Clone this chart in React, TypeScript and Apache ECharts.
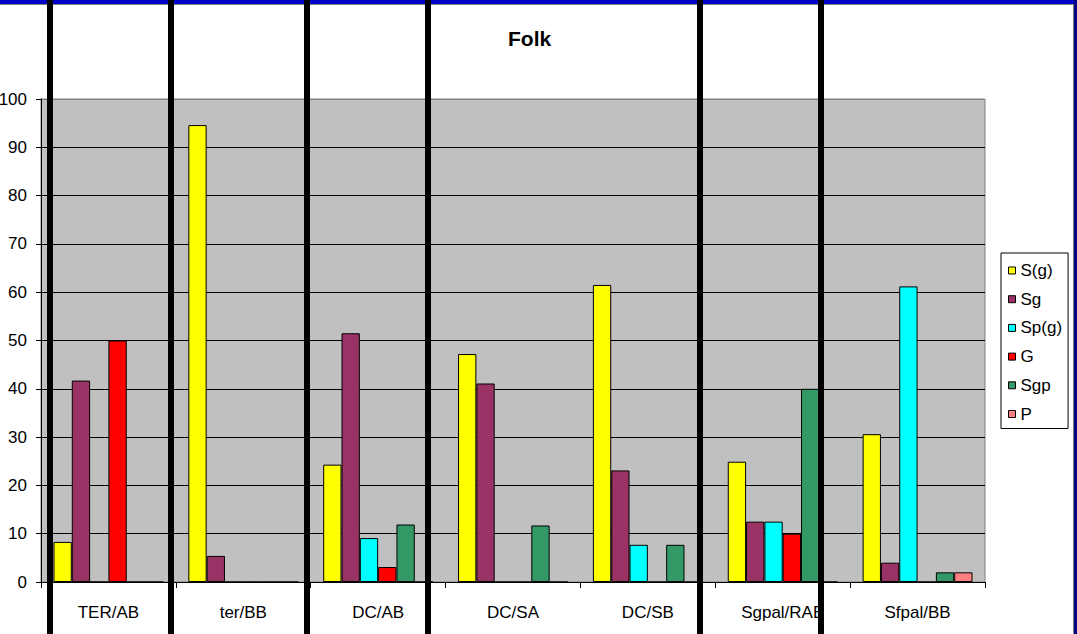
import React, { useEffect, useRef } from "react";
import * as echarts from "echarts";

const categories = ["TER/AB", "ter/BB", "DC/AB", "DC/SA", "DC/SB", "Sgpal/RAB", "Sfpal/BB"];
const seriesNames = ["S(g)", "Sg", "Sp(g)", "G", "Sgp", "P"];
const sgValues = [8.3, 94.6, 24.3, 47.2, 61.5, 24.9, 30.6];
const sgPlainValues = [41.7, 5.4, 51.5, 41.1, 23.1, 12.5, 4.0];
const spgValues = [0, 0, 9.1, 0, 7.7, 12.5, 61.2];
const gValues = [50.0, 0, 3.1, 0, 0, 10.0, 0];
const sgpValues = [0, 0, 11.9, 11.7, 7.7, 40.0, 2.0];
const pValues = [0, 0, 0, 0, 0, 0, 2.0];
const seriesColors = ["#FFFF00", "#993366", "#00FFFF", "#FF0000", "#339966", "#FF8080"];
const yTicks = { min: 0, max: 100, interval: 10 };

const FONT = "'Liberation Sans', Arial, sans-serif";

export default function App() {
  const ref = useRef<HTMLDivElement>(null);
  useEffect(() => {
    if (!ref.current) return;
    const chart = echarts.init(ref.current, null, { renderer: "svg" });
    const allValues = [sgValues, sgPlainValues, spgValues, gValues, sgpValues, pValues];
    const overlayX = [50, 171, 307, 428, 700, 821];
    const gridColors = ["#000", "#000", "#000", "#000", "#000", "#000", "#000", "#000", "#000", "#000", "#808080"];
    chart.setOption({
      animation: false,
      backgroundColor: "#FFFFFF",
      title: {
        text: "Folk",
        left: 508,
        top: 28,
        padding: 0,
        textStyle: { fontFamily: FONT, fontSize: 21, fontWeight: "bold", color: "#000" },
      },
      legend: {
        orient: "vertical",
        left: 1001,
        top: 253,
        padding: [9, 6, 6, 7],
        itemWidth: 7,
        itemHeight: 7,
        itemGap: 11.7,
        itemTextGap: 8,
        icon: "rect",
        backgroundColor: "#FFFFFF",
        borderColor: "#000",
        borderWidth: 1,
        borderRadius: 0,
        itemStyle: { borderColor: "#000", borderWidth: 1 },
        textStyle: { fontFamily: FONT, fontSize: 17, lineHeight: 17, color: "#000" },
        data: seriesNames,
      },
      grid: {
        left: 41,
        top: 99,
        width: 944,
        height: 483,
        containLabel: false,
        outerBoundsMode: "none",
        show: true,
        backgroundColor: "#C0C0C0",
        borderColor: "#808080",
        borderWidth: 1,
      },
      xAxis: {
        type: "category",
        data: categories,
        axisLine: { lineStyle: { color: "#000", width: 1 } },
        axisTick: { show: true, length: 6, lineStyle: { color: "#000" }, interval: 0 },
        axisLabel: { fontFamily: FONT, fontSize: 17, color: "#000", margin: 22, interval: 0 },
      },
      yAxis: {
        type: "value",
        min: yTicks.min,
        max: yTicks.max,
        interval: yTicks.interval,
        axisLine: { show: true, lineStyle: { color: "#000", width: 1 } },
        axisTick: { show: true, length: 5, lineStyle: { color: "#000" } },
        axisLabel: { fontFamily: FONT, fontSize: 17, color: "#000", margin: 14 },
        splitLine: { show: true, lineStyle: { color: gridColors, width: 1 } },
      },
      series: seriesNames.map((name, i) => ({
        name,
        type: "bar",
        data: allValues[i],
        barGap: "0%",
        barCategoryGap: "18.5%",
        itemStyle: { color: seriesColors[i], borderColor: "#000", borderWidth: 1 },
      })),
      graphic: [
        { type: "rect", z: 200, shape: { x: 0, y: 0, width: 1077, height: 4 }, style: { fill: "#0000C8" } },
        { type: "line", z: 200, shape: { x1: 0, y1: 4.5, x2: 1073, y2: 4.5 }, style: { stroke: "#808080", lineWidth: 1 } },
        { type: "line", z: 200, shape: { x1: 1073.5, y1: 4, x2: 1073.5, y2: 634 }, style: { stroke: "#808080", lineWidth: 1 } },
        { type: "rect", z: 200, shape: { x: 1074, y: 0, width: 3, height: 634 }, style: { fill: "#000080" } },
        ...overlayX.map((x) => ({
          type: "rect",
          z: 300,
          shape: { x: x - 3, y: 0, width: 6, height: 634 },
          style: { fill: "#000" },
        })),
      ],
    });
    return () => chart.dispose();
  }, []);
  return (
    <div
      ref={ref}
      style={{ position: "absolute", left: 0, top: 0, width: 1077, height: 634, background: "#fff" }}
    />
  );
}
